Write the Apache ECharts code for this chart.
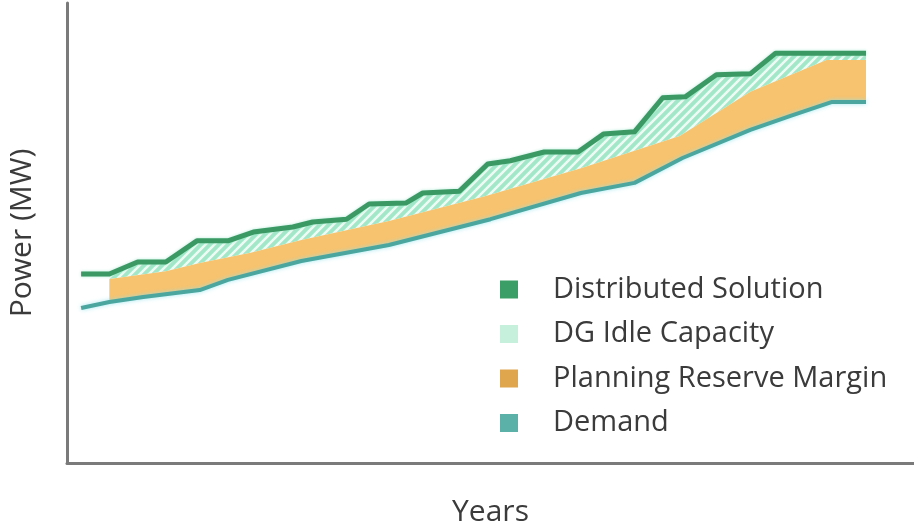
<!DOCTYPE html>
<html>
<head>
<meta charset="utf-8">
<script src="https://cdn.jsdelivr.net/npm/echarts@6/dist/echarts.min.js"></script>
<style>
  html, body { margin: 0; padding: 0; background: #fff; }
  #chart { width: 914px; height: 527px; }
</style>
</head>
<body>
<div id="chart"></div>
<script>
// values (years, MW)
const distYears = [0.5, 1.5, 2.5, 3.5, 4.6, 5.7, 6.6, 8.0, 8.7, 9.9, 10.7, 12.0, 12.6, 13.9, 14.9, 15.7, 16.9, 18.1, 19.0, 20.1, 21.1, 21.9, 23.0, 24.2, 25.1, 28.3];
const distMW = [411, 411, 437, 437, 483, 483, 502, 513, 524, 530, 563, 565, 587, 591, 650, 657, 676, 676, 715, 720, 794, 796, 844, 846, 891, 891];

const reserveYears = [1.5, 3.5, 4.7, 6.5, 8.3, 11.4, 14.8, 18.2, 21.7, 24.2, 26.9, 28.3];
const reserveMW = [400, 417, 435, 457, 485, 526, 580, 641, 711, 807, 876, 876];

const demandYears = [0.5, 1.5, 2.7, 4.7, 5.7, 8.3, 11.4, 15.0, 18.2, 20.1, 21.8, 24.2, 25.6, 27.1, 28.3];
const demandMW = [337, 350, 361, 376, 398, 439, 474, 530, 587, 609, 663, 724, 754, 785, 785];

const bandStart = 1.5;
const font = 'Open Sans';

const chart = echarts.init(document.getElementById('chart'));

// diagonal hatch for the idle capacity band
const hatch = document.createElement('canvas');
hatch.width = 9;
hatch.height = 9;
const hc = hatch.getContext('2d');
hc.fillStyle = '#a2e7c8';
hc.fillRect(0, 0, 9, 9);
hc.strokeStyle = '#eefbf4';
hc.lineWidth = 2.5;
hc.beginPath();
hc.moveTo(-1, 10); hc.lineTo(10, -1);
hc.moveTo(-5, 5); hc.lineTo(5, -5);
hc.moveTo(4, 14); hc.lineTo(14, 4);
hc.stroke();

function pairs(xs, ys) {
  return xs.map((x, i) => [x, ys[i]]);
}

function band(topX, topY, botX, botY, fill) {
  return function (params, api) {
    const pts = [];
    for (let i = 0; i < topX.length; i++) {
      if (topX[i] >= bandStart) pts.push(api.coord([topX[i], topY[i]]));
    }
    for (let i = botX.length - 1; i >= 0; i--) {
      if (botX[i] >= bandStart) pts.push(api.coord([botX[i], botY[i]]));
    }
    return { type: 'polygon', shape: { points: pts }, style: { fill: fill } };
  };
}

chart.setOption({
  animation: false,
  grid: { left: 67, right: 0, top: 3, bottom: 64, containLabel: false, outerBoundsMode: 'none' },
  legend: {
    orient: 'vertical',
    left: 495,
    top: 270,
    icon: 'rect',
    itemWidth: 18,
    itemHeight: 18,
    itemGap: 15.5,
    textStyle: { fontFamily: font, fontSize: 29, color: '#3b3b3b', padding: [0, 0, 0, 30] },
    data: ['Distributed Solution', 'DG Idle Capacity', 'Planning Reserve Margin', 'Demand']
  },
  xAxis: {
    type: 'value',
    min: 0,
    max: 30,
    name: 'Years',
    nameLocation: 'middle',
    nameGap: 34,
    nameTextStyle: { fontFamily: font, fontSize: 30, color: '#3b3b3b', verticalAlign: 'top' },
    axisLine: { lineStyle: { color: '#7a7a7a', width: 3 } },
    axisTick: { show: false },
    axisLabel: { show: false },
    splitLine: { show: false },
    z: 10
  },
  yAxis: {
    type: 'value',
    min: 0,
    max: 1000,
    name: 'Power (MW)',
    nameLocation: 'middle',
    nameRotate: 90,
    nameGap: 30,
    nameTextStyle: { fontFamily: font, fontSize: 30, color: '#3b3b3b' },
    axisLine: { show: true, lineStyle: { color: '#7a7a7a', width: 3 } },
    axisTick: { show: false },
    axisLabel: { show: false },
    splitLine: { show: false }
  },
  series: [
    {
      name: 'DG Idle Capacity',
      type: 'custom',
      itemStyle: { color: '#c6efdc' },
      renderItem: band(distYears, distMW, reserveYears, reserveMW, { image: hatch, repeat: 'repeat' }),
      data: [[0, 0]],
      z: 2
    },
    {
      name: 'Planning Reserve Margin',
      type: 'custom',
      itemStyle: { color: '#dfa64e' },
      renderItem: band(reserveYears, reserveMW, demandYears, demandMW, '#f8c36e'),
      data: [[0, 0]],
      z: 2
    },
    {
      name: 'Demand',
      type: 'line',
      data: pairs(demandYears, demandMW),
      showSymbol: false,
      itemStyle: { color: '#5bb0a7' },
      lineStyle: { color: '#4aa69f', width: 4, shadowColor: 'rgba(140,225,235,0.8)', shadowBlur: 4 },
      z: 3
    },
    {
      name: 'Distributed Solution',
      type: 'line',
      data: pairs(distYears, distMW),
      showSymbol: false,
      itemStyle: { color: '#3b9e67' },
      lineStyle: { color: '#3b9a63', width: 5, join: 'round', shadowColor: 'rgba(150,230,200,0.8)', shadowBlur: 3 },
      z: 4
    }
  ]
});
</script>
</body>
</html>
